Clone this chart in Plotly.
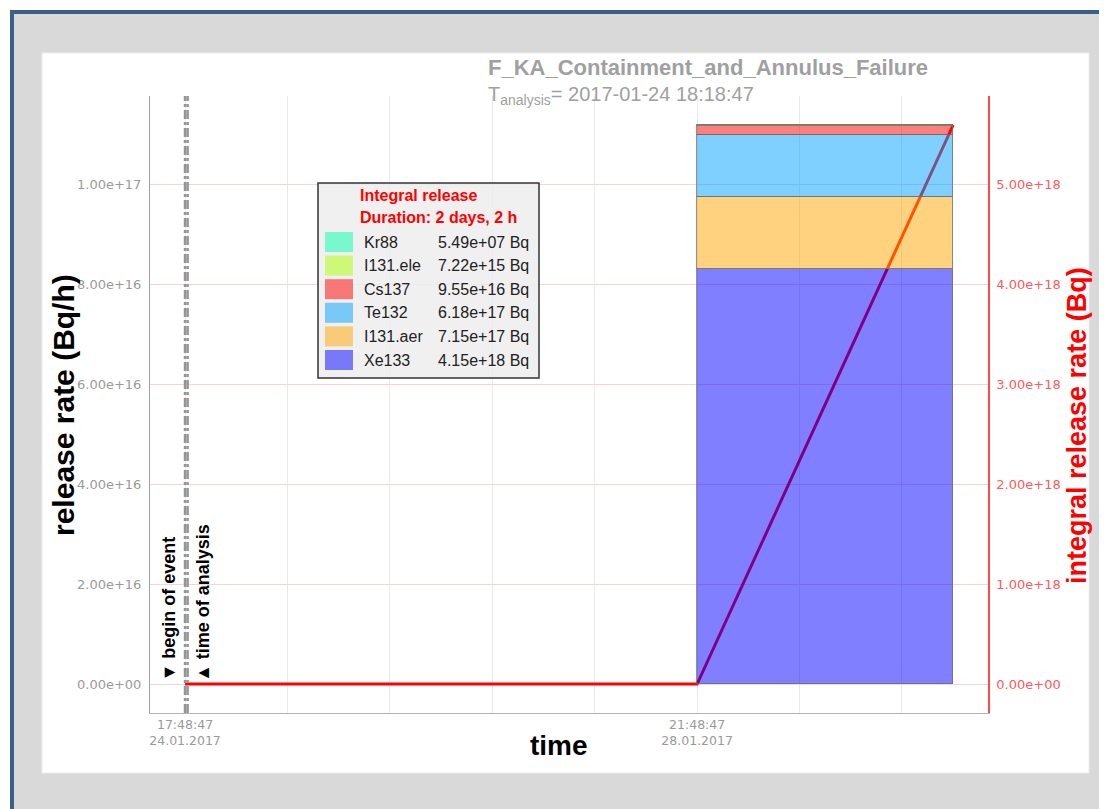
import plotly.graph_objects as go
import pandas as pd

# ---------------- data ----------------
nuclides = ["Xe133", "I131.aer", "Te132", "Cs137", "I131.ele", "Kr88"]
release_rates = [8.3e16, 1.44e16, 1.24e16, 1.9e15, 1.4e14, 1.1e6]      # Bq/h
integral_release = [4.15e18, 7.15e17, 6.18e17, 9.55e16, 7.22e15, 5.49e7]  # Bq
nuclide_colors = ["rgba(0,0,255,0.5)", "rgba(255,165,0,0.5)", "rgba(0,160,255,0.5)",
                  "rgba(255,0,0,0.5)", "rgba(170,255,0,0.5)", "rgba(0,255,170,0.5)"]

begin_of_event = "2017-01-24 17:48:47"
time_of_analysis = "2017-01-24 18:18:47"
release_start = "2017-01-28 21:48:47"
release_hours = 50

integral_times = ["2017-01-24 17:48:47", "2017-01-28 21:48:47", "2017-01-30 23:48:47"]
integral_values = [0.0, 0.0, 5.59e18]

x_tick_times = ["2017-01-24 17:48:47", "2017-01-25 13:48:47", "2017-01-26 09:48:47",
                "2017-01-27 05:48:47", "2017-01-28 01:48:47", "2017-01-28 21:48:47",
                "2017-01-29 17:48:47", "2017-01-30 13:48:47"]
x_tick_labels = ["17:48:47<br>24.01.2017", " ", " ", " ", " ", "21:48:47<br>28.01.2017", " ", " "]

left_tick_vals = [0, 2e16, 4e16, 6e16, 8e16, 1e17]
left_tick_labels = ["0.00e+00", "2.00e+16", "4.00e+16", "6.00e+16", "8.00e+16", "1.00e+17"]
right_tick_vals = [0, 1e18, 2e18, 3e18, 4e18, 5e18]
right_tick_labels = ["0.00e+00", "1.00e+18", "2.00e+18", "3.00e+18", "4.00e+18", "5.00e+18"]

title_text = "F_KA_Containment_and_Annulus_Failure"
analysis_text = "T<sub>analysis</sub>= 2017-01-24 18:18:47"
legend_header = ["Integral release", "Duration: 2 days, 2 h"]

# ---------------- geometry helpers (reference window pixels) ----------------
W, H = 1107, 809
OFF = 8  # page body margin
L, R, T, B = 150, 988, 96, 713


def px(x):
    return (x - L) / (R - L)


def py(y):
    return (B - y) / (B - T)


t0 = pd.Timestamp(begin_of_event)
x_range = [t0 - pd.Timedelta(hours=6.84), t0 + pd.Timedelta(hours=156.8)]

fig = go.Figure()

# integral release line (primary axis, drawn underneath)
fig.add_trace(go.Scatter(x=integral_times, y=integral_values, mode="lines",
                         line=dict(color="#ff0000", width=3), yaxis="y",
                         showlegend=False, hoverinfo="skip"))

# stacked release rate bars (overlay axis, drawn on top)
bar_width_ms = release_hours * 3600 * 1000
for name, rate, col in zip(nuclides, release_rates, nuclide_colors):
    fig.add_trace(go.Bar(x=[release_start], y=[rate], width=[bar_width_ms], offset=0,
                         name=name, marker=dict(color=col,
                                                line=dict(color="rgba(110,110,110,0.75)", width=1)),
                         yaxis="y2", showlegend=False))

FONT = "Liberation Sans, Arial"
shapes = []
# outer gray panel with blue border
shapes.append(dict(type="rect", xref="paper", yref="paper", x0=px(12), x1=px(1140),
                   y0=py(12), y1=py(840), fillcolor="#d9d9d9",
                   line=dict(color="#3a5f8b", width=4), layer="below"))
# white inner panel
shapes.append(dict(type="rect", xref="paper", yref="paper", x0=px(42), x1=px(1089),
                   y0=py(53), y1=py(773), fillcolor="#ffffff",
                   line=dict(color="#ececec", width=1), layer="below"))
# event markers
for t in [begin_of_event, time_of_analysis]:
    shapes.append(dict(type="line", xref="x", yref="paper", x0=t, x1=t, y0=0, y1=1,
                       line=dict(color="#959595", width=2.5, dash="dashdot"), layer="above"))
# legend box
shapes.append(dict(type="rect", xref="paper", yref="paper", x0=px(318), x1=px(539),
                   y0=py(183), y1=py(378), fillcolor="rgba(236,236,236,0.8)",
                   line=dict(color="#333333", width=1.5), layer="above"))

annotations = []
annotations.append(dict(xref="paper", yref="paper", x=px(486), y=py(53), xanchor="left",
                        yanchor="top", align="left", showarrow=False,
                        text="<b><span style='font-size:22px'>" + title_text + "</span></b><br>" + analysis_text,
                        font=dict(family=FONT, size=20, color="#a0a0a0")))
for i, line in enumerate(legend_header):
    annotations.append(dict(xref="paper", yref="paper", x=px(358), y=py(196 + 21 * i),
                            xanchor="left", yanchor="middle", showarrow=False,
                            text="<b>" + line + "</b>",
                            font=dict(family=FONT, size=16, color="#ff0000")))
legend_order = list(range(len(nuclides)))[::-1]
for row, k in enumerate(legend_order):
    yc = 242 + 23.6 * row
    shapes.append(dict(type="rect", xref="paper", yref="paper", x0=px(325), x1=px(353),
                       y0=py(yc - 10), y1=py(yc + 10), fillcolor=nuclide_colors[k],
                       line=dict(width=0), layer="above"))
    annotations.append(dict(xref="paper", yref="paper", x=px(362), y=py(yc), xanchor="left",
                            yanchor="middle", showarrow=False, text=nuclides[k],
                            font=dict(family=FONT, size=16, color="#222222")))
    annotations.append(dict(xref="paper", yref="paper", x=px(531), y=py(yc), xanchor="right",
                            yanchor="middle", showarrow=False,
                            text="%.2e Bq" % integral_release[k],
                            font=dict(family=FONT, size=16, color="#222222")))

# marker labels
annotations.append(dict(xref="paper", yref="paper", x=px(168), y=py(684), xanchor="center",
                        yanchor="bottom", textangle=-90, showarrow=False,
                        text="<b>▼ begin of event</b>",
                        font=dict(family=FONT, size=18, color="#000000")))
annotations.append(dict(xref="paper", yref="paper", x=px(203), y=py(684), xanchor="center",
                        yanchor="bottom", textangle=-90, showarrow=False,
                        text="<b>▲ time of analysis</b>",
                        font=dict(family=FONT, size=18, color="#000000")))
# axis titles
annotations.append(dict(xref="paper", yref="paper", x=px(63), y=py(405), textangle=-90,
                        xanchor="center", yanchor="middle",
                        showarrow=False, text="<b>release rate (Bq/h)</b>",
                        font=dict(family=FONT, size=30, color="#000000")))
annotations.append(dict(xref="paper", yref="paper", x=px(1077), y=py(426), textangle=-90,
                        xanchor="center", yanchor="middle",
                        showarrow=False, text="<b>integral release rate (Bq)</b>",
                        font=dict(family=FONT, size=27, color="#ff0000")))
annotations.append(dict(xref="paper", yref="paper", x=px(559), y=py(745),
                        xanchor="center", yanchor="middle",
                        showarrow=False, text="<b>time</b>",
                        font=dict(family=FONT, size=28, color="#000000")))

tick_font = dict(family="DejaVu Sans, Verdana", size=13, color="#9a9a9a")

fig.update_layout(
    width=W - OFF, height=H - OFF, autosize=False,
    margin=dict(l=L - OFF, r=W - R, t=T - OFF, b=H - B, pad=0),
    paper_bgcolor="#ffffff", plot_bgcolor="rgba(0,0,0,0)",
    barmode="stack", bargap=0, showlegend=False,
    shapes=shapes, annotations=annotations,
    xaxis=dict(type="date", range=x_range, tickmode="array", tickvals=x_tick_times,
               ticktext=x_tick_labels, showgrid=True, gridcolor="#e9e9e9", gridwidth=1,
               showline=True, linecolor="#b4b4b4", linewidth=1, ticks="",
               tickfont=dict(family="DejaVu Sans, Verdana", size=12.5, color="#9a9a9a"),
               zeroline=False),
    yaxis=dict(range=[-2.9e17, 5.88e18], side="right", tickmode="array",
               tickvals=right_tick_vals, ticktext=right_tick_labels, showgrid=False,
               zeroline=False, showline=True, linecolor="#ff4a4a", linewidth=1.5, ticks="",
               ticklabelstandoff=4,
               tickfont=dict(family="DejaVu Sans, Verdana", size=13, color="#ff5a5a"),
               anchor="x"),
    yaxis2=dict(range=[-5.8e15, 1.176e17], side="left", overlaying="y", anchor="x",
                tickmode="array", tickvals=left_tick_vals, ticktext=left_tick_labels,
                showgrid=True, gridcolor="#f6d4d4", gridwidth=1, zeroline=True,
                zerolinecolor="#f6d4d4", zerolinewidth=1, showline=True,
                ticklabelstandoff=5,
                linecolor="#a0a0a0", linewidth=1, ticks="", tickfont=tick_font),
)

fig.write_html("out.html")
